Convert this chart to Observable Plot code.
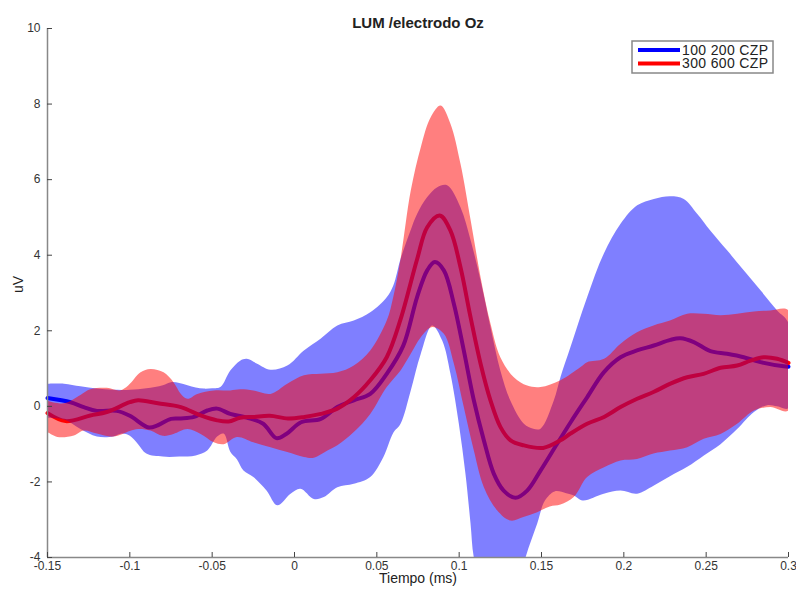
<!DOCTYPE html>
<html><head><meta charset="utf-8">
<script src="https://cdn.jsdelivr.net/npm/d3@7"></script>
<script src="https://cdn.jsdelivr.net/npm/@observablehq/plot@0.6"></script>
<style>body{margin:0;background:#fff}</style>
</head><body><div id="chart"></div>
<script>
// [time (s), value (uV)]
const blueMean = [[-0.15,0.22],[-0.136,0.11],[-0.128,-0.02],[-0.12,-0.12],[-0.108,-0.12],[-0.1,-0.25],[-0.0885,-0.56],[-0.083,-0.5],[-0.075,-0.33],[-0.069,-0.32],[-0.061,-0.28],[-0.053,-0.11],[-0.047,-0.06],[-0.039,-0.2],[-0.029,-0.3],[-0.019,-0.46],[-0.011,-0.84],[-0.005,-0.73],[0.004,-0.42],[0.016,-0.33],[0.026,-0.02],[0.036,0.16],[0.046,0.33],[0.056,0.86],[0.066,1.6],[0.0745,2.9],[0.0806,3.6],[0.0852,3.82],[0.0907,3.6],[0.0968,2.71],[0.1028,1.48],[0.1089,0.16],[0.115,-0.9],[0.121,-1.78],[0.127,-2.23],[0.1342,-2.42],[0.1413,-2.23],[0.1494,-1.7],[0.1595,-0.99],[0.168,-0.4],[0.1777,0.24],[0.1878,0.9],[0.198,1.3],[0.208,1.48],[0.2182,1.61],[0.2283,1.76],[0.2344,1.8],[0.2425,1.7],[0.2526,1.46],[0.2627,1.39],[0.2728,1.3],[0.283,1.17],[0.2971,1.06],[0.3,1.05]];
const blueUpper = [[-0.15,0.6],[-0.14,0.6],[-0.13,0.53],[-0.12,0.47],[-0.11,0.44],[-0.1,0.44],[-0.09,0.48],[-0.08,0.56],[-0.075,0.64],[-0.07,0.62],[-0.065,0.56],[-0.06,0.5],[-0.055,0.47],[-0.05,0.48],[-0.045,0.51],[-0.039,0.95],[-0.033,1.21],[-0.029,1.26],[-0.0227,1.13],[-0.0146,0.97],[-0.0044,1.08],[0.0057,1.48],[0.0158,1.79],[0.026,2.14],[0.036,2.27],[0.046,2.49],[0.056,2.89],[0.06,3.2],[0.0644,3.9],[0.07,4.6],[0.0745,5.1],[0.0806,5.54],[0.0867,5.8],[0.0927,5.85],[0.1008,5.27],[0.107,4.39],[0.113,3.33],[0.119,2.1],[0.125,0.95],[0.131,0.16],[0.1393,-0.46],[0.145,-0.59],[0.1494,-0.59],[0.1575,0.16],[0.1615,0.77],[0.1676,1.57],[0.1777,2.89],[0.1878,4.04],[0.198,4.83],[0.2081,5.32],[0.2182,5.49],[0.2283,5.56],[0.2364,5.49],[0.2445,5.1],[0.2526,4.65],[0.2627,4.13],[0.2728,3.6],[0.283,3.07],[0.2931,2.54],[0.3,2.2]];
const blueLower = [[-0.15,-0.3],[-0.14,-0.35],[-0.13,-0.6],[-0.12,-0.8],[-0.11,-0.8],[-0.105,-0.72],[-0.1,-0.78],[-0.095,-1.0],[-0.09,-1.25],[-0.08,-1.33],[-0.07,-1.33],[-0.06,-1.3],[-0.053,-1.17],[-0.047,-0.8],[-0.043,-0.72],[-0.039,-1.2],[-0.035,-1.4],[-0.031,-1.7],[-0.025,-1.87],[-0.017,-2.23],[-0.0105,-2.62],[-0.0024,-2.31],[0.0036,-2.18],[0.0117,-2.45],[0.0178,-2.4],[0.026,-2.14],[0.036,-2.05],[0.046,-1.87],[0.054,-1.34],[0.06,-0.7],[0.0644,-0.46],[0.0706,0.42],[0.0767,1.39],[0.0836,2.14],[0.0897,1.74],[0.0947,0.86],[0.0998,-0.46],[0.1038,-1.78],[0.1069,-3.1],[0.1089,-4.0],[0.115,-5.0],[0.125,-5.5],[0.135,-5.0],[0.1403,-4.0],[0.1474,-3.1],[0.152,-2.5],[0.158,-2.25],[0.165,-2.3],[0.1696,-2.36],[0.175,-2.49],[0.1878,-2.31],[0.198,-2.23],[0.208,-2.31],[0.218,-2.1],[0.228,-1.85],[0.2385,-1.6],[0.2486,-1.3],[0.2587,-1.0],[0.2688,-0.6],[0.279,-0.15],[0.287,0.03],[0.293,0.0],[0.3,-0.05]];
const redMean = [[-0.15,-0.18],[-0.139,-0.39],[-0.124,-0.24],[-0.114,-0.15],[-0.1,0.11],[-0.095,0.16],[-0.083,0.08],[-0.069,-0.02],[-0.057,-0.24],[-0.047,-0.37],[-0.04,-0.4],[-0.033,-0.3],[-0.025,-0.28],[-0.015,-0.25],[-0.004,-0.32],[0.006,-0.28],[0.016,-0.2],[0.026,-0.06],[0.036,0.24],[0.046,0.69],[0.056,1.3],[0.0644,2.3],[0.0745,3.9],[0.0806,4.74],[0.0882,5.05],[0.0947,4.65],[0.1008,3.68],[0.1069,2.36],[0.113,1.13],[0.119,0.16],[0.1251,-0.55],[0.1312,-0.9],[0.139,-1.03],[0.151,-1.1],[0.1615,-0.9],[0.1676,-0.72],[0.1777,-0.46],[0.188,-0.28],[0.198,-0.02],[0.2081,0.2],[0.218,0.38],[0.2283,0.6],[0.2385,0.77],[0.2484,0.86],[0.2587,1.02],[0.2688,1.08],[0.2769,1.21],[0.2849,1.3],[0.2931,1.26],[0.3,1.15]];
const redUpper = [[-0.15,0.15],[-0.14,0.08],[-0.13,0.3],[-0.124,0.45],[-0.114,0.49],[-0.106,0.42],[-0.101,0.55],[-0.0935,0.9],[-0.0875,0.99],[-0.0795,0.9],[-0.0735,0.64],[-0.069,0.33],[-0.065,0.2],[-0.059,0.33],[-0.049,0.42],[-0.039,0.42],[-0.033,0.45],[-0.025,0.42],[-0.0146,0.33],[-0.0044,0.6],[0.0057,0.82],[0.0158,0.86],[0.026,0.9],[0.036,1.08],[0.046,1.48],[0.056,2.27],[0.06,2.9],[0.0644,3.9],[0.0706,5.71],[0.0767,6.86],[0.0827,7.65],[0.0887,7.96],[0.0947,7.48],[0.1008,6.42],[0.107,4.92],[0.113,3.42],[0.119,2.19],[0.125,1.3],[0.1332,0.77],[0.1413,0.55],[0.1494,0.51],[0.1615,0.69],[0.1737,1.04],[0.1777,1.17],[0.188,1.26],[0.198,1.66],[0.208,1.96],[0.218,2.14],[0.228,2.27],[0.2385,2.45],[0.2485,2.45],[0.2587,2.41],[0.2688,2.45],[0.279,2.51],[0.289,2.54],[0.3,2.54]];
const redLower = [[-0.15,-0.68],[-0.144,-0.81],[-0.134,-0.77],[-0.128,-0.64],[-0.12,-0.72],[-0.11,-0.8],[-0.1,-0.65],[-0.095,-0.6],[-0.0875,-0.64],[-0.08,-0.78],[-0.0735,-0.73],[-0.065,-0.6],[-0.057,-0.73],[-0.049,-0.95],[-0.043,-1.0],[-0.035,-0.81],[-0.025,-0.95],[-0.0146,-1.08],[-0.0044,-1.21],[0.0057,-1.34],[0.0117,-1.36],[0.02,-1.17],[0.026,-1.03],[0.036,-0.68],[0.046,-0.2],[0.056,0.51],[0.0644,0.95],[0.0706,1.39],[0.0767,1.83],[0.0836,2.1],[0.0907,1.92],[0.0968,1.13],[0.1028,-0.02],[0.1089,-1.17],[0.115,-2.14],[0.123,-2.75],[0.131,-3.02],[0.139,-2.93],[0.1474,-2.8],[0.155,-2.65],[0.1615,-2.6],[0.1696,-2.4],[0.1777,-1.87],[0.188,-1.61],[0.198,-1.43],[0.208,-1.39],[0.218,-1.25],[0.228,-1.17],[0.2385,-1.08],[0.2485,-0.86],[0.2587,-0.73],[0.2688,-0.46],[0.279,-0.11],[0.289,-0.02],[0.3,-0.11]];

const xTicks = [-0.15,-0.1,-0.05,0,0.05,0.1,0.15,0.2,0.25,0.3];
const yTicks = [-4,-2,0,2,4,6,8,10];
const seriesNames = ["100 200 CZP","300 600 CZP"];
const seriesColors = ["#0000ff","#ff0000"];
const titleText = "LUM /electrodo Oz";
const xLabel = "Tiempo (ms)";
const yLabel = "uV";

const rows = pairs => pairs.map(([t, v]) => ({t, v}));
const band = (upper, lower) => rows([...upper, ...lower.slice().reverse()]);
const font = "Liberation Sans, Arial, Helvetica, sans-serif";

const chart = Plot.plot({
  width: 796, height: 590,
  marginLeft: 47, marginRight: 8, marginTop: 28, marginBottom: 33,
  style: {fontFamily: font, fontSize: "12px", color: "#333", background: "#fff"},
  x: {domain: [-0.15, 0.3]},
  y: {domain: [-4, 10]},
  marks: [
    Plot.line(rows(blueMean), {x: "t", y: "v", stroke: seriesColors[0], strokeWidth: 4, curve: "catmull-rom"}),
    Plot.line(rows(redMean), {x: "t", y: "v", stroke: seriesColors[1], strokeWidth: 4, curve: "catmull-rom"}),
    Plot.line(band(blueUpper, blueLower), {x: "t", y: "v", fill: seriesColors[0], fillOpacity: 0.5, stroke: "none", curve: "catmull-rom", clip: true}),
    Plot.line(band(redUpper, redLower), {x: "t", y: "v", fill: seriesColors[1], fillOpacity: 0.5, stroke: "none", curve: "catmull-rom", clip: true}),
    Plot.ruleX([-0.15], {stroke: "#888", strokeWidth: 1.5}),
    Plot.ruleY([-4], {stroke: "#888", strokeWidth: 1.5}),
    Plot.axisX({ticks: xTicks, tickFormat: d => String(d), tickSize: -5, tickPadding: 9, stroke: "#444", label: null}),
    Plot.axisY({ticks: yTicks, tickFormat: d => String(d), tickSize: -5, tickPadding: 12, stroke: "#444", label: null}),
    Plot.text([xLabel], {frameAnchor: "bottom", dy: 25, fontSize: 14, fill: "#222"}),
    Plot.text([yLabel], {frameAnchor: "left", dx: -29, rotate: -90, fontSize: 14, fill: "#222"}),
    Plot.text([titleText], {frameAnchor: "top", dy: -11, fontSize: 15, fontWeight: "bold", fill: "#222"})
  ]
});

// legend
const svg = d3.select(chart);
const lg = svg.append("g").attr("font-family", font).attr("text-anchor", "start");
lg.append("rect").attr("x", 632).attr("y", 41).attr("width", 141).attr("height", 32)
  .attr("fill", "#fff").attr("stroke", "#888").attr("stroke-width", 1.5);
seriesNames.forEach((name, i) => {
  const yy = 50 + i * 13.5;
  lg.append("line").attr("x1", 638).attr("x2", 680).attr("y1", yy).attr("y2", yy)
    .attr("stroke", seriesColors[i]).attr("stroke-width", 4);
  lg.append("text").attr("x", 682).attr("y", yy).attr("dy", "0.35em")
    .attr("font-size", 14).attr("textLength", 86).attr("fill", "#222").attr("text-anchor", "start").text(name);
});
document.getElementById("chart").appendChild(chart);
</script></body></html>
